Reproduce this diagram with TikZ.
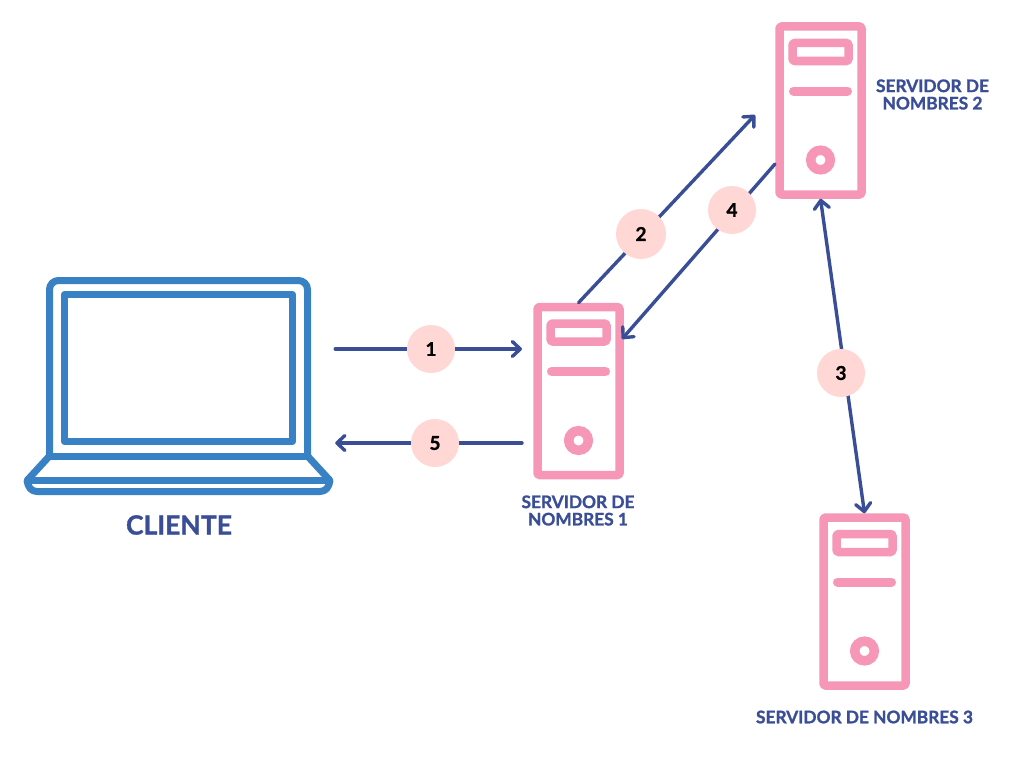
\documentclass[tikz,border=0pt]{standalone}
\usepackage{fontspec}
\setmainfont{Lato}[BoldFeatures={FakeBold=1.2}]
\usetikzlibrary{arrows.meta}
\definecolor{navy}{HTML}{3A4E98}
\definecolor{rosa}{HTML}{F797B7}
\definecolor{azul}{HTML}{3781C4}
\definecolor{badgefill}{HTML}{FFD8D6}
\tikzset{
  x=1pt,y=-1pt,
  pinkline/.style={draw=rosa,line width=8.5pt,line join=round},
  bluepart/.style={draw=azul,line width=7pt,line join=round},
  conn/.style={draw=navy,line width=3.4pt,line cap=round},
  tip/.style={-{Straight Barb[length=8pt,width=15pt,round]}},
  bothtip/.style={{Straight Barb[length=8pt,width=15pt,round]}-{Straight Barb[length=8pt,width=15pt,round]}},
  badge/.style={circle,fill=badgefill,minimum size=48pt,inner sep=0pt,font=\fontsize{19}{19}\selectfont\bfseries},
  srvlabel/.style={text=navy,align=center,font=\fontsize{17.3}{17.3}\selectfont\bfseries,inner sep=0pt},
  pics/server/.style={code={
    \node[pinkline,rounded corners=1.5pt,minimum width=82pt,minimum height=168pt,inner sep=0pt,outer sep=4.25pt] (box) at (0,0) {};
    \draw[pinkline,rounded corners=1.5pt] (-28,-67.5) rectangle (28,-49.5);
    \draw[draw=rosa,line width=9pt,line cap=round] (-27,-19.5) -- (27,-19.5);
    \draw[draw=rosa,line width=9.5pt] (0,49.5) circle (9.8pt);
  }}
}
\begin{document}
\begin{tikzpicture}
\useasboundingbox[fill=white] (0,0) rectangle (1024,768);

% laptop
\node[minimum width=311pt,minimum height=218pt,inner sep=0pt] (laptop) at (179.5,386) {};
\draw[bluepart,rounded corners=9pt] (49.5,456) -- (49.5,280.5) -- (307.5,280.5) -- (307.5,456);
\draw[bluepart] (64.5,294.5) rectangle (292.5,441.5);
\draw[bluepart] (49.5,456) -- (307.5,456);
\draw[bluepart] (27,480.5) -- (330,480.5);
\draw[bluepart] (49.5,456) -- (27,480.5) .. controls (28,487) and (31,491.5) .. (37,491.5) -- (320,491.5) .. controls (326,491.5) and (329,487) .. (330,480.5) -- (307.5,456);
\node[text=navy,font=\fontsize{26.5}{26.5}\selectfont\bfseries,inner sep=0pt] (cliente) at (179,525) {CLIENTE};

% servers
\pic (s1) at (578.5,391) {server};
\pic (s2) at (820.5,110.5) {server};
\pic (s3) at (864.5,601.5) {server};

\node[srvlabel] (l1) at (578,510.5) {SERVIDOR DE\hspace{5pt}\\NOMBRES 1};
\node[srvlabel] (l2) at (932.5,94.5) {SERVIDOR DE\hspace{5pt}\\NOMBRES 2};
\node[srvlabel] (l3) at (864.5,717) {SERVIDOR DE NOMBRES 3};

% connector ends
\coordinate (e1) at (522,349);
\coordinate (e5) at (522,443);
\coordinate (e2) at (755,115);
\coordinate (s4) at (775,164);
\coordinate (e4) at (622,339);

\draw[conn,tip] (laptop.east |- e1) -- (e1);
\draw[conn,tip] (e5) -- (laptop.east |- e5);
\draw[conn,tip] (s1box.north) -- (e2);
\draw[conn,tip] (s4) -- (e4);
\draw[conn,bothtip] (s2box.south) -- (s3box.north);

% badges
\node[badge] (b1) at (431,349) {1};
\node[badge] (b5) at (435,443) {5};
\node[badge,minimum size=50pt] (b2) at (641,234) {2};
\node[badge] (b4) at (732,210) {4};
\node[badge] (b3) at (841,373) {3};
\end{tikzpicture}
\end{document}
